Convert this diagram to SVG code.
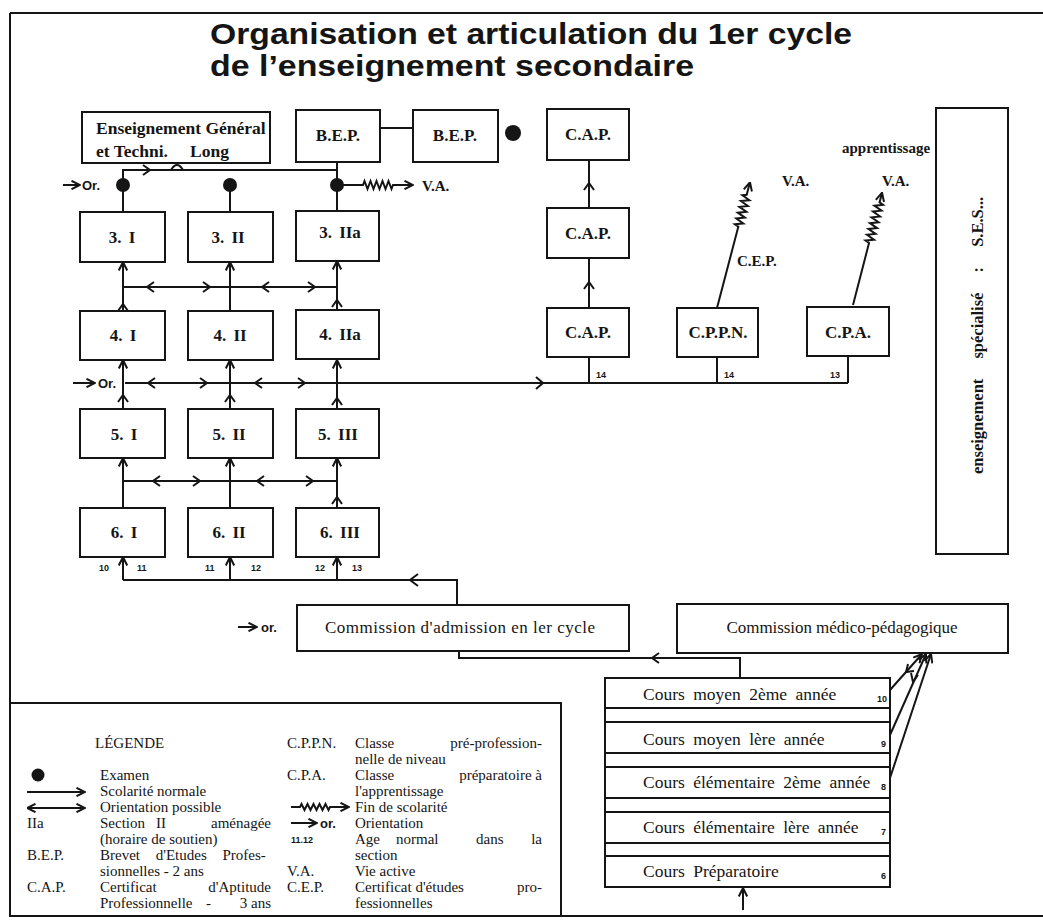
<svg xmlns="http://www.w3.org/2000/svg" width="1043" height="922" viewBox="0 0 1043 922">
<defs>
<style>
.bx{fill:#fff;stroke:#151515;stroke-width:2}
.ln{fill:none;stroke:#151515;stroke-width:2}
.ah{fill:none;stroke:#151515;stroke-width:2}
.dot{fill:#151515}
.lb{font-family:"Liberation Serif","Times New Roman",serif;font-weight:bold;font-size:17px;text-anchor:middle;fill:#151515;word-spacing:3px}
.bt{font-family:"Liberation Serif","Times New Roman",serif;font-weight:bold;font-size:15px;fill:#151515}
.ttl{font-family:"Liberation Sans",Arial,sans-serif;font-weight:bold;font-size:30px;fill:#151515}
.tx{font-family:"Liberation Serif","Times New Roman",serif;font-size:16px;fill:#151515}
.lg{font-family:"Liberation Serif","Times New Roman",serif;font-size:15px;fill:#151515}
.sm{font-family:"Liberation Sans",Arial,sans-serif;font-weight:bold;font-size:9px;fill:#151515}
.or{font-family:"Liberation Sans",Arial,sans-serif;font-weight:bold;font-size:13px;fill:#151515}
</style>
<marker id="arr" viewBox="0 0 10 10" refX="9.5" refY="5" markerWidth="10" markerHeight="10" markerUnits="userSpaceOnUse" orient="auto-start-reverse"><path d="M1,0.8 L9.5,5 L1,9.2" fill="none" stroke="#151515" stroke-width="2"/></marker>
</defs>
<rect width="1043" height="922" fill="#fff"/>

<g id="frame">
<path class="ln" d="M10,13 H1043 M10,13 V703"/>
<path class="ln" d="M10,916 H1043"/>
</g>

<g id="title">
<text class="ttl" x="210" y="44" textLength="642" lengthAdjust="spacingAndGlyphs">Organisation et articulation du 1er cycle</text>
<text class="ttl" x="210" y="76" textLength="484" lengthAdjust="spacingAndGlyphs">de l’enseignement secondaire</text>
</g>

<g id="connectors">
<!-- top -->
<path class="ln" d="M123,185 V170 H337"/>
<path class="ln" d="M337,162 V211"/>
<path class="ln" d="M123,185 V212 M230,185 V212"/>
<path class="ah" d="M143,165 L150,170 L143,175"/>
<path class="ln" d="M171,170 Q177,160 183,170"/>
<path class="ln" d="M380,128 H413"/>
<path class="ln" d="M63,185 H80" marker-end="url(#arr)"/>
<path class="ln" d="M337,185 H363 l1.5,-4 l3,8 l3,-8 l3,8 l3,-8 l3,8 l3,-8 l3,8 l3,-8 l3,8 l1.5,-4 H413" marker-end="url(#arr)"/>
<!-- rows 3-4 -->
<path class="ln" d="M123,311 V262" marker-end="url(#arr)"/>
<path class="ln" d="M230,311 V262" marker-end="url(#arr)"/>
<path class="ln" d="M337,310 V261" marker-end="url(#arr)"/>
<path class="ah" d="M118,311 L123,304 L128,311 M332,307 L337,300 L342,307"/>
<path class="ln" d="M123,287 H337"/>
<path class="ah" d="M154,282 L147,287 L154,292 M203,282 L210,287 L203,292 M269,282 L262,287 L269,292 M308,282 L315,287 L308,292"/>
<!-- rows 4-5 -->
<path class="ln" d="M123,409 V360" marker-end="url(#arr)"/>
<path class="ln" d="M230,409 V360" marker-end="url(#arr)"/>
<path class="ln" d="M337,409 V360" marker-end="url(#arr)"/>
<path class="ah" d="M118,402 L123,395 L128,402 M225,402 L230,395 L235,402 M332,405 L337,398 L342,405"/>
<path class="ln" d="M73,383 H95" marker-end="url(#arr)"/>
<path class="ln" d="M125,383 H848"/>
<path class="ah" d="M155,378 L148,383 L155,388 M200,378 L207,383 L200,388 M262,378 L255,383 L262,388 M298,378 L305,383 L298,388 M536,377 L543,383 L536,389"/>
<path class="ln" d="M589,357 V383 M717,357 V383 M848,356 V383"/>
<!-- rows 5-6 -->
<path class="ln" d="M123,508 V458" marker-end="url(#arr)"/>
<path class="ln" d="M230,508 V458" marker-end="url(#arr)"/>
<path class="ln" d="M337,508 V458" marker-end="url(#arr)"/>
<path class="ah" d="M332,504 L337,497 L342,504"/>
<path class="ln" d="M123,481 H337"/>
<path class="ah" d="M160,476 L153,481 L160,486 M193,476 L200,481 L193,486 M264,476 L257,481 L264,486 M306,476 L313,481 L306,486"/>
<!-- bottom feed -->
<path class="ln" d="M123,580 H457 V605"/>
<path class="ln" d="M123,580 V557" marker-end="url(#arr)"/>
<path class="ln" d="M230,580 V557" marker-end="url(#arr)"/>
<path class="ln" d="M337,580 V557" marker-end="url(#arr)"/>
<path class="ah" d="M418,574 L410,580 L418,586"/>
<!-- commission -->
<path class="ln" d="M459,651 V658 H740 V678"/>
<path class="ah" d="M659,653 L652,658 L659,663"/>
<path class="ln" d="M238,627 H257" marker-end="url(#arr)"/>
<!-- cours internal -->
<path class="ln" d="M740,708 V722 M740,753 V767 M740,798 V812 M740,843 V856"/>
<path class="ln" d="M743,910 V888" marker-end="url(#arr)"/>
<!-- medico diagonals -->
<path class="ln" d="M890,690 L922,654" marker-end="url(#arr)"/>
<path class="ln" d="M890,735 L926,654" marker-end="url(#arr)"/>
<path class="ln" d="M890,778 L931,654" marker-end="url(#arr)"/>
<path class="ah" d="M908,664 L906,672 L914,671 M911,673 L913,682 L918,675"/>
<!-- CAP column -->
<path class="ln" d="M589,308 V258 M589,208 V160"/>
<path class="ah" d="M584,289 L589,282 L594,289 M584,190 L589,183 L594,190"/>
<!-- wavy diagonals -->
<g transform="translate(717,308) rotate(-75.3)">
<path class="ln" d="M0,0 H84 l1.5,-4 l3,8 l3,-8 l3,8 l3,-8 l3,8 l3,-8 l3,8 l3,-8 l3,8 l3,-8 l1.5,4 H130" marker-end="url(#arr)"/>
</g>
<g transform="translate(853,305) rotate(-75.5)">
<path class="ln" d="M0,0 H64 l1.5,-4 l3,8 l3,-8 l3,8 l3,-8 l3,8 l3,-8 l3,8 l3,-8 l3,8 l3,-8 l3,8 l3,-8 l3,8 l1.5,-4 H116" marker-end="url(#arr)"/>
</g>
</g>

<g id="dots">
<circle class="dot" cx="123" cy="185" r="7"/>
<circle class="dot" cx="230" cy="185" r="7"/>
<circle class="dot" cx="337" cy="185" r="7"/>
<circle class="dot" cx="513" cy="133" r="8"/>
</g>

<g id="free-labels">
<text class="or" x="82" y="190">Or.</text>
<text class="or" x="98" y="388">Or.</text>
<text class="or" x="261" y="632">or.</text>
<text class="bt" x="422" y="191">V.A.</text>
<text class="bt" x="782" y="186">V.A.</text>
<text class="bt" x="882" y="186">V.A.</text>
<text class="bt" x="737" y="266">C.E.P.</text>
<text class="bt" x="842" y="153">apprentissage</text>
<text class="sm" x="596" y="378">14</text>
<text class="sm" x="724" y="378">14</text>
<text class="sm" x="830" y="378">13</text>
<text class="sm" x="99" y="571">10</text>
<text class="sm" x="137" y="571">11</text>
<text class="sm" x="205" y="571">11</text>
<text class="sm" x="251" y="571">12</text>
<text class="sm" x="315" y="571">12</text>
<text class="sm" x="352" y="571">13</text>
</g>

<g id="n-egtl"><rect class="bx" x="82" y="112" width="188" height="51"/>
<text class="bt" x="96" y="134" style="font-size:17.5px">Enseignement Général</text>
<text class="bt" x="96" y="157" style="font-size:17.5px">et Techni.</text><text class="bt" x="190" y="157" style="font-size:17.5px">Long</text></g>
<g id="n-bep1"><rect class="bx" x="296" y="110" width="84" height="52"/><text class="lb" x="338" y="141">B.E.P.</text></g>
<g id="n-bep2"><rect class="bx" x="413" y="110" width="85" height="52"/><text class="lb" x="455" y="141">B.E.P.</text></g>

<g id="n-3I"><rect class="bx" x="80" y="212" width="85" height="50"/><text class="lb" x="122" y="243">3. I</text></g>
<g id="n-3II"><rect class="bx" x="188" y="212" width="85" height="50"/><text class="lb" x="228" y="243">3. II</text></g>
<g id="n-3IIa"><rect class="bx" x="296" y="211" width="83" height="50"/><text class="lb" x="340" y="238">3. IIa</text></g>
<g id="n-4I"><rect class="bx" x="80" y="311" width="85" height="49"/><text class="lb" x="123" y="341">4. I</text></g>
<g id="n-4II"><rect class="bx" x="188" y="311" width="85" height="49"/><text class="lb" x="230" y="341">4. II</text></g>
<g id="n-4IIa"><rect class="bx" x="296" y="310" width="83" height="49"/><text class="lb" x="340" y="340">4. IIa</text></g>
<g id="n-5I"><rect class="bx" x="80" y="409" width="85" height="49"/><text class="lb" x="124" y="440">5. I</text></g>
<g id="n-5II"><rect class="bx" x="188" y="409" width="85" height="49"/><text class="lb" x="229" y="440">5. II</text></g>
<g id="n-5III"><rect class="bx" x="296" y="409" width="83" height="49"/><text class="lb" x="338" y="440">5. III</text></g>
<g id="n-6I"><rect class="bx" x="80" y="508" width="85" height="49"/><text class="lb" x="124" y="538">6. I</text></g>
<g id="n-6II"><rect class="bx" x="188" y="508" width="85" height="49"/><text class="lb" x="229" y="538">6. II</text></g>
<g id="n-6III"><rect class="bx" x="296" y="508" width="83" height="49"/><text class="lb" x="340" y="538">6. III</text></g>

<g id="n-cap3"><rect class="bx" x="547" y="109" width="82" height="51"/><text class="lb" x="588" y="140">C.A.P.</text></g>
<g id="n-cap2"><rect class="bx" x="547" y="208" width="82" height="50"/><text class="lb" x="588" y="239">C.A.P.</text></g>
<g id="n-cap1"><rect class="bx" x="547" y="308" width="82" height="49"/><text class="lb" x="588" y="338">C.A.P.</text></g>
<g id="n-cppn"><rect class="bx" x="677" y="308" width="81" height="49"/><text class="lb" x="718" y="338">C.P.P.N.</text></g>
<g id="n-cpa"><rect class="bx" x="807" y="307" width="82" height="49"/><text class="lb" x="848" y="338">C.P.A.</text></g>

<g id="n-ses"><rect class="bx" x="936" y="108" width="72" height="446"/>
<text class="bt" transform="translate(983,474) rotate(-90)" style="font-size:16.5px;word-spacing:16px">enseignement spécialisé : S.E.S...</text></g>

<g id="n-admission"><rect class="bx" x="297" y="605" width="332" height="46"/>
<text class="tx" x="460" y="633" text-anchor="middle" style="font-size:17px" textLength="270">Commission d'admission en ler cycle</text></g>
<g id="n-medico"><rect class="bx" x="677" y="604" width="331" height="49"/>
<text class="tx" x="842" y="633" text-anchor="middle" style="font-size:17px" textLength="231">Commission médico-pédagogique</text></g>

<g id="n-cours">
<rect class="bx" x="605" y="678" width="285" height="209"/>
<path class="ln" d="M605,708 H890 M605,722 H890 M605,753 H890 M605,767 H890 M605,798 H890 M605,812 H890 M605,843 H890 M605,856 H890"/>
<g class="tx" style="font-size:17.5px;word-spacing:4px">
<text x="643" y="700">Cours moyen 2ème année</text>
<text x="643" y="745">Cours moyen lère année</text>
<text x="643" y="788">Cours élémentaire 2ème année</text>
<text x="643" y="833">Cours élémentaire lère année</text>
<text x="643" y="877">Cours Préparatoire</text>
</g>
<text class="sm" x="877" y="702">10</text>
<text class="sm" x="881" y="747">9</text>
<text class="sm" x="881" y="790">8</text>
<text class="sm" x="881" y="835">7</text>
<text class="sm" x="881" y="879">6</text>
</g>

<g id="legend">
<rect class="ln" x="10" y="703" width="551" height="213"/>
<g class="lg">
<text x="95" y="748">LÉGENDE</text>
<text x="100" y="780">Examen</text>
<text x="100" y="796">Scolarité normale</text>
<text x="100" y="812">Orientation possible</text>
<text x="27" y="828">IIa</text>
<text x="100" y="828">Section</text><text x="156" y="828">II</text><text x="271" y="828" text-anchor="end">aménagée</text>
<text x="100" y="844">(horaire de soutien)</text>
<text x="27" y="860">B.E.P.</text>
<text x="100" y="860" style="word-spacing:12px">Brevet d'Etudes Profes-</text>
<text x="100" y="876">sionnelles - 2 ans</text>
<text x="27" y="892">C.A.P.</text>
<text x="100" y="892">Certificat</text><text x="271" y="892" text-anchor="end">d'Aptitude</text>
<text x="100" y="908">Professionnelle</text><text x="206" y="908">-</text><text x="271" y="908" text-anchor="end">3 ans</text>
<text x="287" y="748">C.P.P.N.</text>
<text x="355" y="748">Classe</text><text x="542" y="748" text-anchor="end">pré-profession-</text>
<text x="355" y="764">nelle de niveau</text>
<text x="287" y="780">C.P.A.</text>
<text x="355" y="780">Classe</text><text x="542" y="780" text-anchor="end">préparatoire à</text>
<text x="355" y="796">l'apprentissage</text>
<text x="355" y="812">Fin de scolarité</text>
<text x="355" y="828">Orientation</text>
<text x="355" y="844">Age</text><text x="396" y="844">normal</text><text x="476" y="844">dans</text><text x="542" y="844" text-anchor="end">la</text>
<text x="355" y="860">section</text>
<text x="287" y="876">V.A.</text>
<text x="355" y="876">Vie active</text>
<text x="287" y="892">C.E.P.</text>
<text x="355" y="892">Certificat d'études</text><text x="542" y="892" text-anchor="end">pro-</text>
<text x="355" y="908">fessionnelles</text>
</g>
<circle class="dot" cx="38" cy="775" r="6.5"/>
<path class="ln" d="M27,792 H85" marker-end="url(#arr)"/>
<path class="ln" d="M27,808 H85" marker-start="url(#arr)" marker-end="url(#arr)"/>
<path class="ln" d="M291,807 H300 l1.5,-3 l3,6 l3,-6 l3,6 l3,-6 l3,6 l3,-6 l3,6 l3,-6 l3,6 l1.5,-3 H349" marker-end="url(#arr)"/>
<path class="ln" d="M291,823 H317" marker-end="url(#arr)"/>
<text class="or" x="320" y="828">or.</text>
<text class="sm" x="291" y="843">11.12</text>
</g>
</svg>
